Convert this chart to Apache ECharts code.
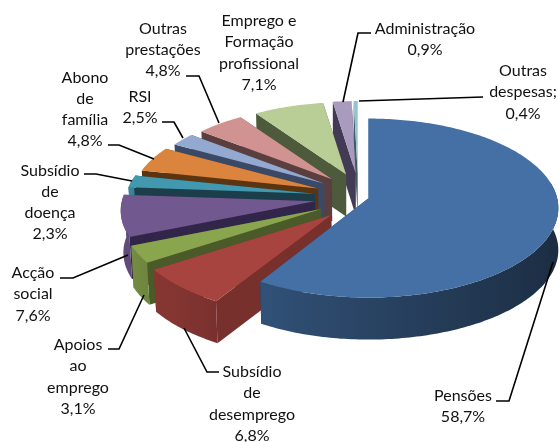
<!DOCTYPE html>
<html>
<head>
<meta charset="utf-8">
<style>
html, body { margin: 0; padding: 0; background: #fff; }
#myChart { width: 560px; height: 442px; }
</style>
<script src="https://cdn.jsdelivr.net/npm/echarts@6/dist/echarts.min.js"></script>
</head>
<body>
<div id="myChart"></div>
<script>
// slice shares (the 0,9% label sits on a slice drawn as 1,9 in the picture)
var categories = ['Pensões', 'Subsídio de desemprego', 'Apoios ao emprego', 'Acção social', 'Subsídio de doença',
    'Abono de família', 'RSI', 'Outras prestações', 'Emprego e Formação profissional', 'Administração', 'Outras despesas'];
var values = [58.7, 6.8, 3.1, 7.6, 2.3, 4.8, 2.5, 4.8, 7.1, 1.9, 0.4];
var labelLines = [
    ['Pensões', '58,7%'],
    ['Subsídio', 'de', 'desemprego', '6,8%'],
    ['Apoios', 'ao', 'emprego', '3,1%'],
    ['Acção', 'social', '7,6%'],
    ['Subsídio', 'de', 'doença', '2,3%'],
    ['Abono', 'de', 'família', '4,8%'],
    ['RSI', '2,5%'],
    ['Outras', 'prestações', '4,8%'],
    ['Emprego e', 'Formação', 'profissional', '7,1%'],
    ['Administração', '0,9%'],
    ['Outras', 'despesas;', '0,4%']
];

var TOP_COLORS = ['#4470A5', '#A8443F', '#89A54E', '#71588F', '#4198AF', '#DB843D', '#93A9CF', '#D19392', '#B9CD96', '#A99BBD', '#92C3D4'];
var EDGE_COLORS = ['#1f3550', '#78302d', '#4a5a28', '#32254a', '#1b3e4a', '#5b3512', '#3a4a66', '#5b3f3f', '#4d5a3c', '#433a55', '#3d5a66'];

// label anchor: centre x, y of first line, line step
var LABEL_POS = [[463, 396, 21], [252, 372, 21.3], [78, 345, 21.3], [33, 273, 21.3], [50, 171, 21], [85, 78, 21], [140, 97, 20.5], [163, 29, 21], [259, 21, 21.3], [425, 29, 21], [523, 71, 21.3]];
var LEADERS = [
    [[553, 262], [509, 401], [496, 401]],
    [[184, 328], [207, 372], [219, 372]],
    [[144, 295], [119, 349], [108, 349]],
    [[128, 255], [73, 278], [60, 278]],
    [[132, 181], [96, 174], [84, 174]],
    [[154, 159], [119, 145], [108, 145]],
    [[183, 138], [174, 122], [162, 122]],
    [[219, 123], [199, 76], [186, 76]],
    [],
    [[343, 102], [358, 33], [371, 33]],
    [[359, 101], [483, 97]]
];

var RX = 189, RY = 88.5, PERSP = 0.106, DEPTH = 42;

function mix(hex, f) {
    var c = echarts.color.parse(hex);
    return 'rgb(' + Math.round(c[0] * f) + ',' + Math.round(c[1] * f) + ',' + Math.round(c[2] * f) + ')';
}

function rimShade(deg) {
    // left side of the rim is lit, right side falls off to dark
    var t = (Math.sin(deg * Math.PI / 180) + 1) / 2; // 0 at left, 1 at right
    return 0.88 - 0.48 * Math.pow(t, 0.8);
}

function renderSlice(params, api) {
    var idx = api.value(0);
    var start = 0;
    for (var i = 0; i < idx; i++) {
        start += values[i];
    }
    var total = values.reduce(function(a, b) { return a + b; }, 0);
    var a0 = start / total * 360;
    var a1 = (start + api.value(1)) / total * 360;
    var mid = (a0 + a1) / 2 * Math.PI / 180;
    var u = Math.sin(mid), v = -Math.cos(mid);

    // exploded apex, further back slices sit smaller
    var apexX = 341 + 27 * u + 17 * v * v;
    var apexY = 197.3 + 24.4 * v - 5.5 * Math.max(u, 0);
    var s = 1 + 0.08 * (v - 0.27);
    var sx = s * (u < 0 ? 1.03 : 1);

    function rim(deg) {
        var t = deg * Math.PI / 180;
        var w = 1 + PERSP * Math.cos(t);
        return [apexX + sx * RX * Math.sin(t) / w, apexY - s * RY * Math.cos(t) / w];
    }
    function down(p) {
        return [p[0] + Math.min(p[0] - 341, 0) * -0.012, p[1] + DEPTH];
    }

    var apex = [apexX, apexY];
    var topPts = [apex];
    var children = [];
    var p0 = rim(a0), p1 = rim(a1);
    var edge = EDGE_COLORS[idx];

    children.push({ type: 'polygon', shape: { points: [apex, p0, down(p0), down(apex)] }, style: { fill: edge } });
    children.push({ type: 'polygon', shape: { points: [apex, p1, down(p1), down(apex)] }, style: { fill: edge } });

    // rim wall as one polygon, shaded left to right; only the front part shows
    var upper = [], lower = [], stops = [], d;
    for (d = a0; d <= a1 + 0.001; d += (a1 - a0) / Math.ceil(a1 - a0 + 1)) {
        var q = rim(d);
        topPts.push(q);
        if (Math.cos(d * Math.PI / 180) < 0.2) {
            upper.push(q);
            lower.unshift(down(q));
            stops.push([q[0], mix(TOP_COLORS[idx], rimShade(d))]);
        }
    }
    if (upper.length > 1) {
        stops.sort(function(a, b) { return a[0] - b[0]; });
        var x0 = stops[0][0], x1 = stops[stops.length - 1][0];
        children.push({
            type: 'polygon',
            shape: { points: upper.concat(lower) },
            style: {
                fill: new echarts.graphic.LinearGradient(x0, 0, x1, 0, stops.filter(function(st, n) {
                    return n % 6 === 0 || n === stops.length - 1;
                }).map(function(st) {
                    return { offset: (st[0] - x0) / Math.max(x1 - x0, 1), color: st[1] };
                }), true)
            }
        });
    }
    topPts.push(p1);
    children.push({ type: 'polygon', shape: { points: topPts }, style: { fill: TOP_COLORS[idx] } });
    return { type: 'group', children: children };
}

function makeGraphics() {
    var items = [];
    LEADERS.forEach(function(pts) {
        if (pts.length) {
            items.push({ type: 'polyline', z: 10, shape: { points: pts }, style: { stroke: '#000', lineWidth: 1.6, fill: null } });
        }
    });
    labelLines.forEach(function(lines, i) {
        var pos = LABEL_POS[i];
        lines.forEach(function(line, k) {
            items.push({
                type: 'text',
                z: 10,
                x: pos[0],
                y: pos[1] + k * pos[2],
                style: {
                    text: line,
                    fill: '#111',
                    font: '16px Lato',
                    align: 'center',
                    verticalAlign: 'middle'
                }
            });
        });
    });
    return items;
}

var myChart = echarts.init(document.getElementById('myChart'));
myChart.setOption({
    animation: false,
    backgroundColor: '#fff',
    graphic: makeGraphics(),
    series: [{
        type: 'custom',
        coordinateSystem: 'none',
        silent: true,
        renderItem: renderSlice,
        // back slices first, the big front slice paints last
        data: values.map(function(val, i) { return [i, val]; }).reverse()
    }]
});
</script>
</body>
</html>
